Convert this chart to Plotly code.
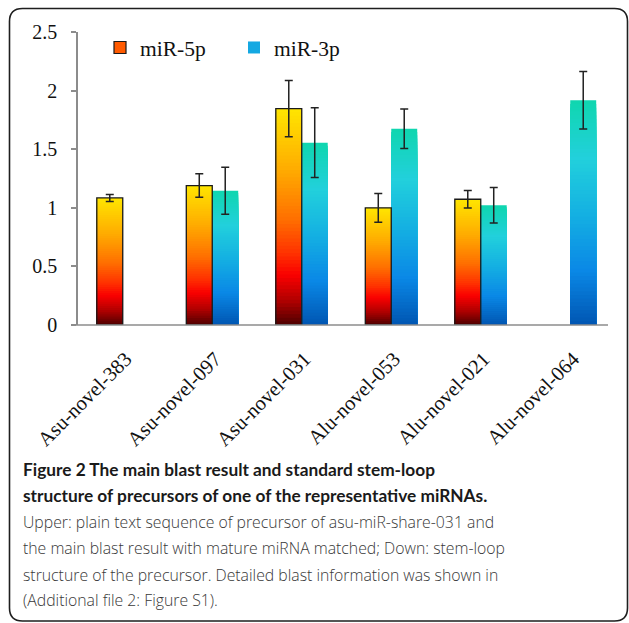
import plotly.graph_objects as go

# ---------------- data ----------------
categories = ["Asu-novel-383", "Asu-novel-097", "Asu-novel-031",
              "Alu-novel-053", "Alu-novel-021", "Alu-novel-064"]
mir5p = [1.084, 1.19, 1.846, 1.0, 1.073, None]
mir5p_err = [0.03, 0.10, 0.24, 0.123, 0.075, None]
mir3p = [None, 1.146, 1.556, 1.675, 1.022, 1.917]
mir3p_err = [None, 0.20, 0.297, 0.168, 0.152, 0.245]
series_names = ["miR-5p", "miR-3p"]

caption_bold = ["Figure 2 The main blast result and standard stem-loop",
                "structure of precursors of one of the representative miRNAs."]
caption_body = ["Upper: plain text sequence of precursor of asu-miR-share-031 and",
                "the main blast result with mature miRNA matched; Down: stem-loop",
                "structure of the precursor. Detailed blast information was shown in",
                "(Additional file 2: Figure S1)."]

# ---------------- styling ----------------
grad5 = [(0.0, (255, 228, 0)), (0.28, (255, 170, 0)), (0.5, (255, 112, 0)),
         (0.66, (255, 50, 0)), (0.76, (250, 0, 0)), (0.88, (176, 0, 0)), (1.0, (70, 0, 0))]
grad3 = [(0.0, (16, 214, 176)), (0.25, (34, 208, 220)), (0.5, (20, 176, 226)),
         (0.75, (10, 136, 230)), (1.0, (0, 84, 176))]


def interp(stops, t):
    for (p0, c0), (p1, c1) in zip(stops[:-1], stops[1:]):
        if p0 <= t <= p1:
            f = (t - p0) / (p1 - p0) if p1 > p0 else 0
            c = [round(a + (b - a) * f) for a, b in zip(c0, c1)]
            return "rgb(%d,%d,%d)" % tuple(c)
    return "rgb(%d,%d,%d)" % stops[-1][1]


W_FIG, H_FIG = 629, 623
L, R, T, B = 78, 615, 32, 325
PW, PH = R - L, B - T


def px(x):
    return (x - L) / PW


def py(y):
    return (B - y) / PH


SERIF = "Liberation Serif"
SANS_BOLD = "Lato"
SANS_BODY = "Open Sans"
N = 60
fig = go.Figure()

# gradient: full-height bar first, then successively shorter bars on top
for vals, stops, grp in [(mir5p, grad5, "a"), (mir3p, grad3, "b")]:
    for k in range(N):
        frac = (N - k) / N
        t = k / N  # colour position measured from the top of the bar
        fig.add_trace(go.Bar(
            x=categories,
            y=[v * frac if v is not None else None for v in vals],
            offsetgroup=grp,
            marker=dict(color=interp(stops, t), line=dict(width=0)),
            showlegend=False, hoverinfo="skip"))

# outline + error bars
fig.add_trace(go.Bar(
    x=categories, y=mir5p, offsetgroup="a", showlegend=False,
    marker=dict(color="rgba(0,0,0,0)", line=dict(color="#1a1a1a", width=1.3)),
    error_y=dict(type="data", array=mir5p_err, color="#222222", thickness=1.5, width=4)))
fig.add_trace(go.Bar(
    x=categories, y=mir3p, offsetgroup="b", showlegend=False,
    marker=dict(color="rgba(0,0,0,0)", line=dict(width=0)),
    error_y=dict(type="data", array=mir3p_err, color="#222222", thickness=1.5, width=4)))

# legend entries
fig.add_trace(go.Bar(x=categories, y=[None] * len(categories), offsetgroup="a",
                     name=series_names[0],
                     marker=dict(color="#FF5A00", line=dict(color="#1a1a1a", width=1.2))))
fig.add_trace(go.Bar(x=categories, y=[None] * len(categories), offsetgroup="b",
                     name=series_names[1],
                     marker=dict(color="#14A8E2", line=dict(width=0))))

shapes = []
shapes.append(dict(type="line", xref="paper", yref="paper", x0=px(72), x1=px(608),
                   y0=0, y1=0, line=dict(color="#8c8c8c", width=1.5), layer="above"))
x0, y0, x1, y1, r = 9.5, 8.5, 627.5, 621, 13
path = (f"M {px(x0 + r)},{py(y0)} L {px(x1 - r)},{py(y0)} "
        f"Q {px(x1)},{py(y0)} {px(x1)},{py(y0 + r)} L {px(x1)},{py(y1 - r)} "
        f"Q {px(x1)},{py(y1)} {px(x1 - r)},{py(y1)} L {px(x0 + r)},{py(y1)} "
        f"Q {px(x0)},{py(y1)} {px(x0)},{py(y1 - r)} L {px(x0)},{py(y0 + r)} "
        f"Q {px(x0)},{py(y0)} {px(x0 + r)},{py(y0)} Z")
shapes.append(dict(type="path", xref="paper", yref="paper", path=path,
                   line=dict(color="#1e1e1e", width=1.6)))

annotations = []
bold_y = [469, 495]
for txt, yy in zip(caption_bold, bold_y):
    annotations.append(dict(text="<b>" + txt + "</b>", x=px(21), y=py(yy), xref="paper",
                            yref="paper", xanchor="left", yanchor="middle", showarrow=False,
                            font=dict(family=SANS_BOLD, size=17.3, color="#1a1a1a")))
body_y = [522, 548, 575, 600]
for txt, yy in zip(caption_body, body_y):
    annotations.append(dict(text=txt, x=px(21), y=py(yy), xref="paper",
                            yref="paper", xanchor="left", yanchor="middle", showarrow=False,
                            font=dict(family=SANS_BODY, size=15.8, color="#383838", weight=300)))

fig.update_layout(
    width=W_FIG, height=H_FIG,
    margin=dict(l=L, r=W_FIG - R, t=T, b=H_FIG - B, autoexpand=False),
    paper_bgcolor="white", plot_bgcolor="white",
    barmode="group", bargap=0.42, bargroupgap=0,
    font=dict(family=SERIF, size=20, color="#111111"),
    showlegend=True,
    legend=dict(orientation="h", x=px(100), y=py(27), xanchor="left", yanchor="top",
                font=dict(family=SERIF, size=21.5, color="#111111"),
                bgcolor="rgba(0,0,0,0)", entrywidth=89, entrywidthmode="pixels"),
    xaxis=dict(type="category", range=[-0.5, 5.5], showline=False, showgrid=False,
               zeroline=False, ticks="", tickangle=-45, automargin=False,
               ticklabelstandoff=17, ticklabelshift=3,
               tickfont=dict(family=SERIF, size=20.5, color="#111111")),
    yaxis=dict(range=[0, 2.5], tickvals=[0, 0.5, 1, 1.5, 2, 2.5],
               ticktext=["0", "0.5", "1", "1.5", "2", "2.5"],
               showline=True, linecolor="#8c8c8c", linewidth=1.5,
               ticks="outside", ticklen=5, tickcolor="#8c8c8c", tickwidth=1.5,
               ticklabelstandoff=10, showgrid=False, zeroline=False, automargin=False,
               tickfont=dict(family=SERIF, size=20, color="#111111")),
    shapes=shapes, annotations=annotations,
)

fig.write_html("out.html", config={"displayModeBar": False},
               post_script="document.body.style.margin='0';")
